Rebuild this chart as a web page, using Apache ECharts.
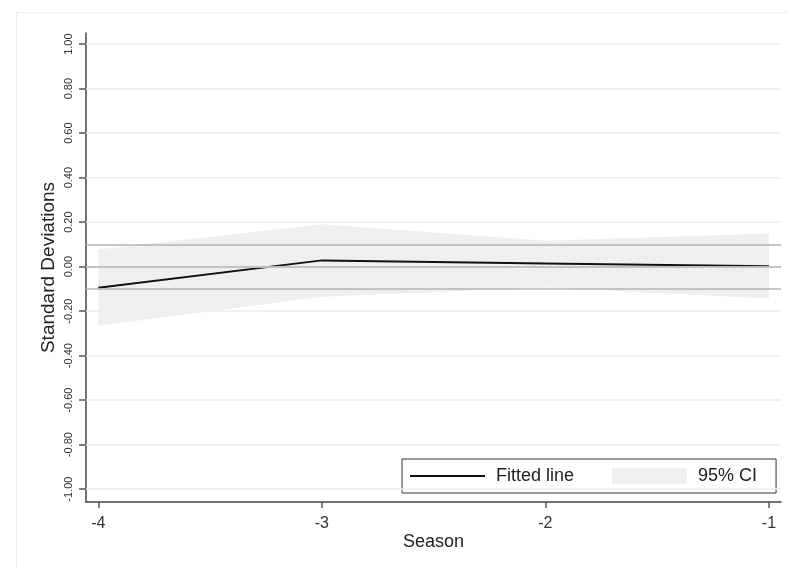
<!DOCTYPE html>
<html>
<head>
<meta charset="utf-8">
<script src="https://cdn.jsdelivr.net/npm/echarts@6/dist/echarts.min.js"></script>
<style>html,body{margin:0;padding:0;background:#fff;}#c{width:788px;height:569px;}</style>
</head>
<body>
<div id="c"></div>
<script>
var seasons = [-4, -3, -2, -1];
var fitted = [-0.095, 0.028, 0.014, 0.002];
var ciLower = [-0.266, -0.136, -0.094, -0.143];
var ciUpper = [0.077, 0.190, 0.116, 0.149];
var xTicks = [-4, -3, -2, -1];
var yTicks = [-1, -0.8, -0.6, -0.4, -0.2, 0, 0.2, 0.4, 0.6, 0.8, 1];
var refLines = [0.1, 0, -0.1];

var FONT = '"Liberation Sans", Arial, sans-serif';
function pairs(vals) { return seasons.map(function (s, i) { return [s, vals[i]]; }); }
var bandRows = seasons.map(function (s, i) { return [s, ciLower[i], ciUpper[i]]; });

var chart = echarts.init(document.getElementById('c'), null, {renderer: 'canvas'});
chart.setOption({
  animation: false,
  backgroundColor: '#fff',
  graphic: [{
    type: 'rect', shape: {x: 16.5, y: 12.5, width: 820, height: 620},
    style: {fill: 'none', stroke: '#e6eff0', lineWidth: 1}, z: -10
  }],
  grid: {left: 86, top: 33, right: 7, bottom: 67},
  xAxis: {
    type: 'value', min: -4.055, max: -0.946,
    name: 'Season', nameLocation: 'middle', nameGap: 31, nameMoveOverlap: false,
    nameTextStyle: {fontFamily: FONT, fontSize: 18, color: '#222'},
    axisLine: {show: true, onZero: false, lineStyle: {color: '#444', width: 1.5}},
    axisTick: {show: true, customValues: xTicks, length: 6, lineStyle: {color: '#555', width: 1.5}},
    axisLabel: {customValues: xTicks, margin: 14, fontFamily: FONT, fontSize: 16, color: '#333',
      formatter: function (v) { return String(v); }},
    splitLine: {show: false}
  },
  yAxis: {
    type: 'value', min: -1.058, max: 1.05,
    name: 'Standard Deviations', nameLocation: 'middle', nameGap: 28, nameMoveOverlap: false,
    nameTextStyle: {fontFamily: FONT, fontSize: 19, color: '#222'},
    axisLine: {show: true, onZero: false, lineStyle: {color: '#444', width: 1.5}},
    axisTick: {show: true, customValues: yTicks, length: 7, lineStyle: {color: '#555', width: 1.5}},
    axisLabel: {customValues: yTicks, rotate: 90, margin: 12, fontFamily: FONT, fontSize: 11, color: '#333',
      formatter: function (v) { return v.toFixed(2); }},
    splitLine: {show: false}
  },
  legend: {
    left: 402, top: 459,
    orient: 'horizontal',
    padding: [8, 19, 8, 8],
    itemGap: 38,
    itemWidth: 75, itemHeight: 16,
    borderColor: '#333', borderWidth: 1,
    backgroundColor: '#fff',
    textStyle: {fontFamily: FONT, fontSize: 18, color: '#222', padding: [0, 0, 0, 6]},
    data: [
      {name: 'Fitted line', icon: 'path://M0,0h100v2.6h-100z', itemStyle: {color: '#111'}},
      {name: '95% CI', icon: 'rect', itemStyle: {color: '#efefef'}}
    ]
  },
  series: [
    {
      name: 'grid', type: 'line', data: pairs(fitted), showSymbol: false, silent: true, z: 1,
      lineStyle: {width: 0, opacity: 0},
      markLine: {
        silent: true, symbol: 'none', label: {show: false},
        lineStyle: {color: '#e6eff0', width: 1.5, type: 'solid'},
        data: yTicks.map(function (v) { return {yAxis: v}; })
      }
    },
    {
      name: '95% CI', type: 'custom', data: bandRows, silent: true, z: 2,
      itemStyle: {color: '#efefef'},
      renderItem: function (params, api) {
        if (params.dataIndex !== 0) return null;
        var pts = [];
        bandRows.forEach(function (r) { pts.push(api.coord([r[0], r[2]])); });
        bandRows.slice().reverse().forEach(function (r) { pts.push(api.coord([r[0], r[1]])); });
        return {type: 'polygon', shape: {points: pts}, style: {fill: '#efefef', stroke: null}};
      }
    },
    {
      name: 'ref', type: 'line', data: pairs(fitted), showSymbol: false, silent: true, z: 3,
      lineStyle: {width: 0, opacity: 0},
      markLine: {
        silent: true, symbol: 'none', label: {show: false},
        lineStyle: {color: '#b4b4b4', width: 1.5, type: 'solid'},
        data: refLines.map(function (v) { return {yAxis: v}; })
      }
    },
    {
      name: 'Fitted line', type: 'line', data: pairs(fitted), showSymbol: false, z: 4,
      lineStyle: {color: '#111', width: 2}, itemStyle: {color: '#111'}
    }
  ]
});
</script>
</body>
</html>
